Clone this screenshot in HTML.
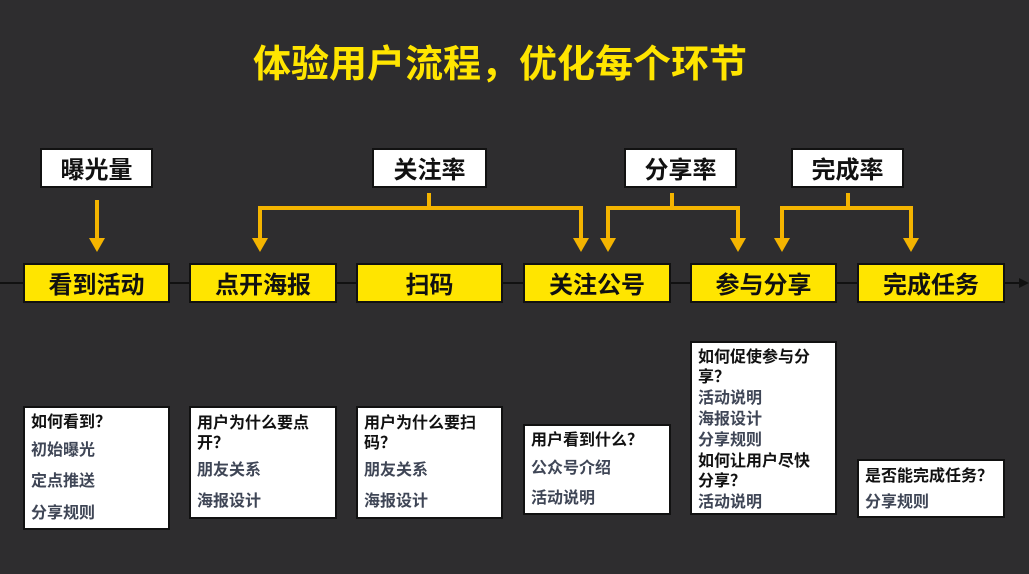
<!DOCTYPE html>
<html><head><meta charset="utf-8"><style>
body{margin:0;width:1029px;height:574px;background:#2e2d2f;position:relative;overflow:hidden;font-family:"Noto Sans CJK SC","Liberation Sans",sans-serif;}
.a{position:absolute;}
.t{position:absolute;font-weight:bold;font-size:16px;line-height:18px;white-space:nowrap;color:#111;}
.g{color:#3f4656;}
.lab{position:absolute;background:#fff;border:2px solid #111;box-sizing:border-box;font-weight:bold;font-size:24px;color:#111;text-align:center;line-height:36px;height:40px;}
.st{position:absolute;background:#ffe500;border:2px solid #111;box-sizing:border-box;font-weight:bold;font-size:24px;color:#111;text-align:center;line-height:36px;height:40px;top:263px;}
.bx{position:absolute;background:#fff;border:2px solid #111;box-sizing:border-box;}
</style></head><body>
<div class="a" style="left:0;width:1000px;top:38px;text-align:center;color:#ffe500;font-weight:bold;font-size:38px;line-height:46px;">体验用户流程，优化每个环节</div>
<svg class="a" style="left:0;top:0" width="1029" height="574">
<line x1="0" y1="283" x2="1020" y2="283" stroke="#111" stroke-width="2"/>
<polygon points="1029,283 1019,278 1019,288" fill="#111"/>
<g stroke="#f4b400" stroke-width="4" fill="none">
<line x1="97" y1="200" x2="97" y2="240"/>
<line x1="429" y1="193" x2="429" y2="208"/>
<polyline points="260,240 260,208 581,208 581,240"/>
<line x1="672" y1="193" x2="672" y2="208"/>
<polyline points="608,240 608,208 738,208 738,240"/>
<line x1="848" y1="193" x2="848" y2="208"/>
<polyline points="782,240 782,208 911,208 911,240"/>
</g>
<g fill="#f4b400">
<polygon points="89,238 105,238 97,252"/>
<polygon points="252,238 268,238 260,252"/>
<polygon points="573,238 589,238 581,252"/>
<polygon points="600,238 616,238 608,252"/>
<polygon points="730,238 746,238 738,252"/>
<polygon points="774,238 790,238 782,252"/>
<polygon points="903,238 919,238 911,252"/>
</g>
</svg>
<div class="lab" style="left:40px;top:148px;width:113px">曝光量</div>
<div class="lab" style="left:372px;top:148px;width:115px">关注率</div>
<div class="lab" style="left:624px;top:148px;width:113px">分享率</div>
<div class="lab" style="left:791px;top:148px;width:113px">完成率</div>
<div class="st" style="left:23px;width:147px">看到活动</div>
<div class="st" style="left:189px;width:148px">点开海报</div>
<div class="st" style="left:356px;width:147px">扫码</div>
<div class="st" style="left:523px;width:148px">关注公号</div>
<div class="st" style="left:690px;width:147px">参与分享</div>
<div class="st" style="left:857px;width:148px">完成任务</div>

<div class="bx" style="left:23px;top:406px;width:147px;height:124px"></div>
<div class="t" style="left:31px;top:411px">如何看到？</div>
<div class="t g" style="left:31px;top:439px">初始曝光</div>
<div class="t g" style="left:31px;top:470px">定点推送</div>
<div class="t g" style="left:31px;top:502px">分享规则</div>

<div class="bx" style="left:189px;top:406px;width:148px;height:113px"></div>
<div class="t" style="left:197px;top:412px">用户为什么要点</div>
<div class="t" style="left:197px;top:432px">开？</div>
<div class="t g" style="left:197px;top:459px">朋友关系</div>
<div class="t g" style="left:197px;top:490px">海报设计</div>

<div class="bx" style="left:356px;top:406px;width:147px;height:113px"></div>
<div class="t" style="left:364px;top:412px">用户为什么要扫</div>
<div class="t" style="left:364px;top:432px">码？</div>
<div class="t g" style="left:364px;top:459px">朋友关系</div>
<div class="t g" style="left:364px;top:490px">海报设计</div>

<div class="bx" style="left:523px;top:424px;width:148px;height:91px"></div>
<div class="t" style="left:531px;top:429px">用户看到什么？</div>
<div class="t g" style="left:531px;top:457px">公众号介绍</div>
<div class="t g" style="left:531px;top:487px">活动说明</div>

<div class="bx" style="left:690px;top:341px;width:147px;height:174px"></div>
<div class="t" style="left:698px;top:346px">如何促使参与分</div>
<div class="t" style="left:698px;top:366px">享？</div>
<div class="t g" style="left:698px;top:387px">活动说明</div>
<div class="t g" style="left:698px;top:408px">海报设计</div>
<div class="t g" style="left:698px;top:429px">分享规则</div>
<div class="t" style="left:698px;top:450px">如何让用户尽快</div>
<div class="t" style="left:698px;top:470px">分享？</div>
<div class="t g" style="left:698px;top:491px">活动说明</div>

<div class="bx" style="left:857px;top:459px;width:148px;height:59px"></div>
<div class="t" style="left:865px;top:465px">是否能完成任务？</div>
<div class="t g" style="left:865px;top:491px">分享规则</div>
</body></html>
